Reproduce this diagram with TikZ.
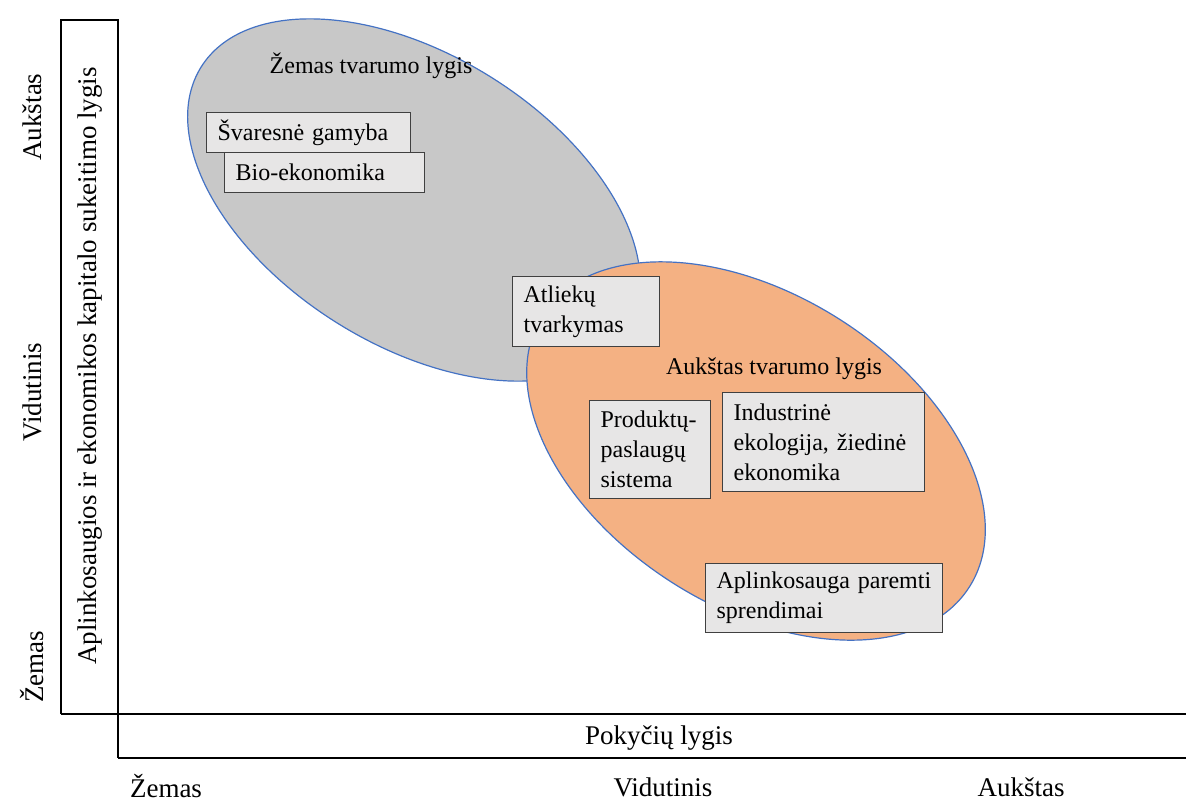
\documentclass[tikz,border=0pt]{standalone}
\usepackage{fontspec}
\setmainfont{Liberation Serif}
\usetikzlibrary{positioning}
\definecolor{lowcolor}{RGB}{200,200,200}
\definecolor{highcolor}{RGB}{244,177,131}
\definecolor{rimcolor}{RGB}{68,114,196}
\definecolor{boxfill}{RGB}{231,230,230}
\definecolor{boxrim}{RGB}{64,64,64}
\tikzset{
  axisln/.style={line width=1pt, black},
  zoneln/.style={draw=rimcolor, line width=0.6pt},
  itembox/.style={draw=boxrim, fill=boxfill, line width=0.6pt, anchor=north west,
    align=left, inner xsep=5.5pt, inner ysep=0pt, font=\fontsize{12}{15}\selectfont},
  lbl/.style={font=\fontsize{12}{15}\selectfont, inner sep=0pt},
  axislbl/.style={font=\fontsize{13.5}{16}\selectfont, inner sep=0pt},
}

\begin{document}
\begin{tikzpicture}[x=0.5pt, y=0.5pt]
    \useasboundingbox (0,0) rectangle (1186,-803);
    % sustainability zones
    \draw[zoneln, fill=lowcolor, rotate around={-32:(414,-200)}]
      (414,-200) ellipse [x radius=125.5pt, y radius=72.5pt];
    \draw[zoneln, fill=highcolor, rotate around={-32.5:(756,-451)}]
      (756,-451) ellipse [x radius=126.5pt, y radius=78pt];
    \node[lbl] (lowlbl) at (371,-66) {Žemas tvarumo lygis};
    \node[lbl] (highlbl) at (774,-369) {Aukštas tvarumo lygis};
    % approaches
    \node[itembox, text width=91pt, minimum height=20pt] (clean) at (206,-112)
      {Švaresnė gamyba};
    \node[itembox, text width=89pt, minimum height=20pt] (bio) at (224,-152)
      {Bio-ekonomika};
    \node[itembox, text width=62.5pt, minimum height=35pt] (waste) at (512,-276)
      {Atliekų\\tvarkymas};
    \node[itembox, text width=49.5pt, minimum height=49pt] (pss) at (589,-400)
      {Produktų-\\paslaugų\\sistema};
    \node[itembox, text width=90pt, minimum height=49.5pt] (indeco) at (722,-392)
      {Industrinė\\ekologija, žiedinė\\ekonomika};
    \node[itembox, text width=107.5pt, minimum height=34.5pt] (nature) at (705,-563)
      {Aplinkosauga paremti\\sprendimai};
    % axis frames
    \draw[axisln] (61,-714) -- (61,-20) -- (118,-20) -- (118,-758);
    \draw[axisln] (61,-714) -- (1186,-714);
    \draw[axisln] (118,-758) -- (1186,-758);
    \node[axislbl, rotate=90] (ytitle) at (90,-366)
      {Aplinkosaugios ir ekonomikos kapitalo sukeitimo lygis};
    \node[axislbl] (xtitle) at (659,-738) {Pokyčių lygis};
    % level marks
    \node[axislbl, rotate=90] (yhigh) at (32,-117) {Aukštas};
    \node[axislbl, rotate=90] (ymid) at (32,-392) {Vidutinis};
    \node[axislbl, rotate=90] (ylow) at (32,-667) {Žemas};
    \node[axislbl] (xlow) at (166,-786) {Žemas};
    \node[axislbl] (xmid) at (663,-787) {Vidutinis};
    \node[axislbl] (xhigh) at (1021,-787) {Aukštas};
\end{tikzpicture}
\end{document}
